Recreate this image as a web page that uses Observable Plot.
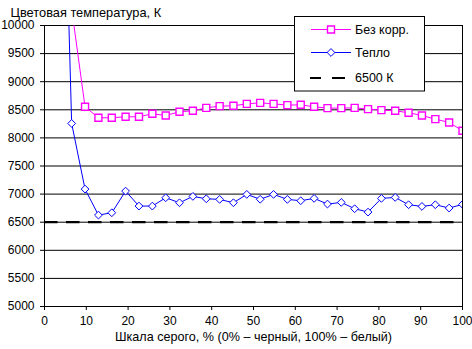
<!DOCTYPE html>
<html>
<head>
<meta charset="utf-8">
<script src="https://cdn.jsdelivr.net/npm/d3@7"></script>
<script src="https://cdn.jsdelivr.net/npm/@observablehq/plot@0.6"></script>
<style>
  html, body { margin: 0; padding: 0; background: #fff; }
  svg { display: block; }
</style>
</head>
<body>
<div id="chart"></div>
<script>
// ---- data ----
const grey = [0, 3.2, 6.5, 9.7, 12.9, 16.1, 19.4, 22.6, 25.8, 29.0, 32.3, 35.5, 38.7, 41.9, 45.2, 48.4,
              51.6, 54.8, 58.1, 61.3, 64.5, 67.7, 71.0, 74.2, 77.4, 80.6, 83.9, 87.1, 90.3, 93.5, 96.8, 100];
const bezKorr = [null, 12000, 10300, 8553, 8358, 8358, 8376, 8376, 8429, 8399, 8465, 8482, 8535, 8565, 8571, 8606,
                 8624, 8606, 8583, 8589, 8553, 8530, 8530, 8535, 8512, 8494, 8482, 8447, 8399, 8334, 8275, 8127];
const teplo = [null, 17000, 8257, 7089, 6627, 6668, 7054, 6787, 6787, 6935, 6846, 6959, 6917, 6906, 6846, 6995,
               6908, 6995, 6906, 6882, 6924, 6823, 6852, 6740, 6680, 6924, 6941, 6811, 6781, 6811, 6752, 6817];
const reference = [6500];
const seriesNames = ["Без корр.", "Тепло", "6500 К"];
const xTicks = [0, 10, 20, 30, 40, 50, 60, 70, 80, 90, 100];
const yTicks = [5000, 5500, 6000, 6500, 7000, 7500, 8000, 8500, 9000, 9500, 10000];
const title = "Цветовая температура, К";
const xTitle = "Шкала серого, % (0% – черный, 100% – белый)";

const magenta = "#ff00ff";
const blue = "#0000ff";

const rowsA = grey.map((g, i) => ({x: g, y: bezKorr[i]}));
const rowsB = grey.map((g, i) => ({x: g, y: teplo[i]}));
const dotsA = rowsA.filter(d => d.y != null);
const dotsB = rowsB.filter(d => d.y != null);

const svg = Plot.plot({
  width: 472,
  height: 349,
  marginLeft: 44,
  marginRight: 10,
  marginTop: 25,
  marginBottom: 43,
  style: {fontFamily: "'Liberation Sans', Arial, sans-serif", fontSize: "12px", color: "#000", background: "#fff", overflow: "visible"},
  x: {domain: [0, 100], ticks: xTicks, tickSize: 4, tickPadding: 6, tickFormat: d => String(d), label: null},
  y: {domain: [5000, 10000], ticks: yTicks, tickSize: 4, tickPadding: 6, tickFormat: d => String(d), label: null},
  marks: [
    Plot.ruleY(yTicks, {stroke: "#000", strokeWidth: 1}),
    Plot.ruleX([0, 100], {stroke: "#000", strokeWidth: 1}),
    Plot.ruleY(reference, {stroke: "#000", strokeWidth: 2.2, strokeDasharray: "13.5,8.5"}),
    Plot.line(rowsA, {x: "x", y: "y", stroke: magenta, strokeWidth: 1, clip: true}),
    Plot.line(rowsB, {x: "x", y: "y", stroke: blue, strokeWidth: 1, clip: true}),
    Plot.dot(dotsA, {x: "x", y: "y", symbol: "square", r: 3.95, stroke: magenta, strokeWidth: 1.4, fill: "#fff", clip: true}),
    Plot.dot(dotsB, {x: "x", y: "y", symbol: "diamond2", r: 3.5, stroke: blue, strokeWidth: 1, fill: "#fff", clip: true}),
    Plot.text([title], {frameAnchor: "top-left", text: d => d, textAnchor: "start", dx: -34, dy: -17.5, fontSize: 12.8, fill: "#000"}),
    Plot.text([xTitle], {frameAnchor: "bottom", text: d => d, dy: 34.5, fontSize: 12.6, fill: "#000"})
  ]
});

// legend box inside the plot area
const g = d3.select(svg).append("g")
  .attr("font-family", "'Liberation Sans', Arial, sans-serif")
  .attr("font-size", 12.5)
  .attr("text-anchor", "start");
g.append("rect").attr("x", 294.5).attr("y", 16.5).attr("width", 130).attr("height", 74.5)
  .attr("fill", "#fff").attr("stroke", "#000").attr("stroke-width", 1);
const items = [
  {name: seriesNames[0], y: 29.5, stroke: magenta, sym: d3.symbolSquare, size: 49, sw: 1.4},
  {name: seriesNames[1], y: 52.5, stroke: blue, sym: d3.symbolDiamond2, size: Math.PI * 3.5 * 3.5, sw: 1},
  {name: seriesNames[2], y: 78, stroke: "#000", sym: null}
];
for (const it of items) {
  if (it.sym) {
    g.append("line").attr("x1", 311).attr("x2", 351).attr("y1", it.y).attr("y2", it.y)
      .attr("stroke", it.stroke).attr("stroke-width", 1);
    g.append("path").attr("d", d3.symbol(it.sym, it.size)()).attr("transform", `translate(331,${it.y})`)
      .attr("fill", "#fff").attr("stroke", it.stroke).attr("stroke-width", it.sw);
  } else {
    g.append("line").attr("x1", 310).attr("x2", 345).attr("y1", it.y).attr("y2", it.y)
      .attr("stroke", "#000").attr("stroke-width", 2.2).attr("stroke-dasharray", "11,11,13");
  }
  g.append("text").attr("x", 355).attr("y", it.y).attr("dy", "0.35em")
    .attr("text-anchor", "start").attr("fill", "#000").text(it.name);
}

document.getElementById("chart").appendChild(svg);
</script>
</body>
</html>
